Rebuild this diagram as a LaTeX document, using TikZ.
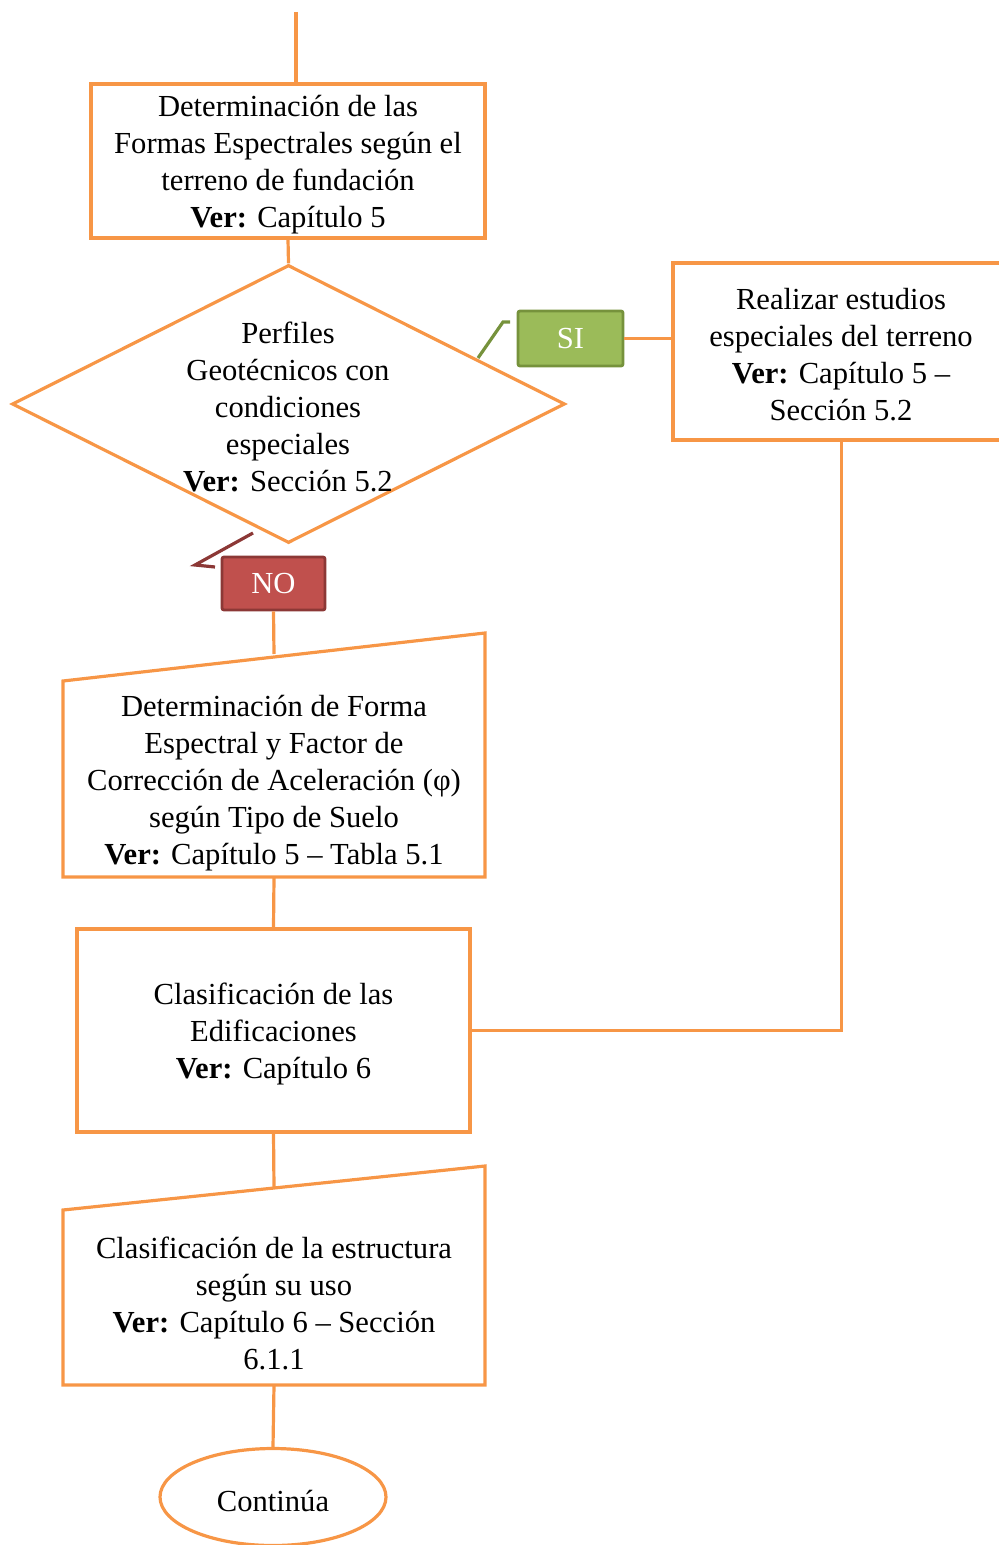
\documentclass[tikz,border=0pt]{standalone}
\usepackage{fontspec}
\setmainfont{Liberation Serif}
\usetikzlibrary{shapes.geometric}
\definecolor{orn}{HTML}{F79646}
\definecolor{grnfill}{HTML}{9BBB59}
\definecolor{grnline}{HTML}{76923C}
\definecolor{redfill}{HTML}{C0504D}
\definecolor{redline}{HTML}{8C3836}
\tikzset{
  orline/.style={draw=orn, line width=1.6pt},
  boxnode/.style={orline, rectangle, inner sep=0pt},
  txt/.style={align=center, font=\fontsize{15.3}{18.5}\selectfont, inner sep=0pt},
  tagsi/.style={rectangle, fill=grnfill, draw=grnline, line width=1.4pt, rounded corners=1pt, text=white, font=\fontsize{15.3}{18.5}\selectfont, inner sep=0pt},
  tagno/.style={rectangle, fill=redfill, draw=redline, line width=1.4pt, rounded corners=1pt, text=white, font=\fontsize{15.3}{18.5}\selectfont, inner sep=0pt},
}
\begin{document}
\begin{tikzpicture}[x=0.5pt,y=-0.5pt]
\useasboundingbox (0,0) rectangle (998,1545);
% box 1
\node[boxnode, minimum width=197pt, minimum height=77pt] (b1) at (288,161) {};
\node[txt] (b1t) at (288,165) {Determinación de las\\Formas Espectrales según el\\terreno de fundación\\\textbf{Ver:} Capítulo 5};
% diamond
\node[orline, diamond, minimum width=276.5pt, minimum height=139pt, inner sep=0pt] (d) at (288.5,404) {};
\node[txt] (dt) at (288,407) {Perfiles\\Geotécnicos con\\condiciones\\especiales\\\textbf{Ver:} Sección 5.2};
% right box
\node[boxnode, minimum width=168.5pt, minimum height=88.5pt] (rb) at (841.5,351.5) {};
\node[txt] (rbt) at (841,355) {Realizar estudios\\especiales del terreno\\\textbf{Ver:} Capítulo 5 --\\Sección 5.2};
% SI tag
\node[tagsi, minimum width=52.5pt, minimum height=27.5pt] (si) at (570.5,338.5) {SI};
% NO tag
\node[tagno, minimum width=51.5pt, minimum height=26.5pt] (no) at (273.5,583.5) {NO};
% trapezoid 1
\coordinate (t1tl) at (63,681);
\coordinate (t1tr) at (485,633);
\coordinate (t1br) at (485,877);
\coordinate (t1bl) at (63,877);
\coordinate (t1top) at (274,654);
\coordinate (t1bot) at (274,877);
\draw[orline, line join=miter] (t1tl) -- (t1tr) -- (t1br) -- (t1bl) -- cycle;
\node[txt] (t1t) at (274,783) {Determinación de Forma\\Espectral y Factor de\\Corrección de Aceleración (φ)\\según Tipo de Suelo\\\textbf{Ver:} Capítulo 5 -- Tabla 5.1};
% clasificacion box
\node[boxnode, minimum width=196.5pt, minimum height=101.5pt] (cl) at (273.5,1030.5) {};
\node[txt] (clt) at (273.5,1034) {Clasificación de las\\Edificaciones\\\textbf{Ver:} Capítulo 6};
% trapezoid 2
\coordinate (t2tl) at (63,1210);
\coordinate (t2tr) at (485,1166);
\coordinate (t2br) at (485,1385);
\coordinate (t2bl) at (63,1385);
\coordinate (t2top) at (274,1188);
\coordinate (t2bot) at (274,1385);
\draw[orline, line join=miter] (t2tl) -- (t2tr) -- (t2br) -- (t2bl) -- cycle;
\node[txt] (t2t) at (274,1303) {Clasificación de la estructura\\según su uso\\\textbf{Ver:} Capítulo 6 -- Sección\\6.1.1};
% ellipse
\node[orline, ellipse, minimum width=113pt, minimum height=48.5pt, inner sep=0pt] (el) at (273,1497) {};
\node[txt] (elt) at (273,1501) {Continúa};
% connectors
\coordinate (start) at (296,12);
\draw[orline] (start) -- (start |- b1.north);
\draw[orline] (b1.south) -- (d.north);
\draw[orline] (si.east) -- (rb.west |- si.east);
\draw[orline] (rb.south) |- (cl.east);
\draw[orline] (no.south) -- (t1top);
\draw[orline] (t1bot) -- (cl.north);
\draw[orline] (cl.south) -- (t2top);
\draw[orline] (t2bot) -- (el.north);
% tag leaders
\coordinate (g1) at (510,322);
\coordinate (g2) at (503,322);
\coordinate (g3) at (478,358);
\draw[grnline, line width=1.6pt] (g1) -- (g2) -- (g3);
\coordinate (r1) at (253,533);
\coordinate (r2) at (195,565);
\coordinate (r3) at (215,567);
\draw[redline, line width=1.6pt] (r1) -- (r2) -- (r3);
\end{tikzpicture}
\end{document}
